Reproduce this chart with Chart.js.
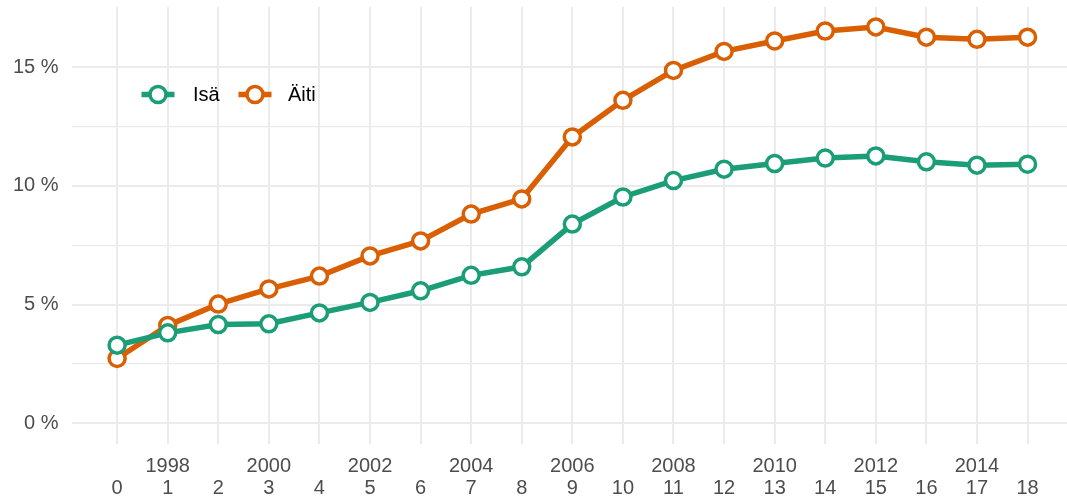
<!DOCTYPE html>
<html>
<head>
<meta charset="utf-8">
<script src="https://cdn.jsdelivr.net/npm/chart.js@4/dist/chart.umd.min.js"></script>
<style>
  html, body { margin: 0; padding: 0; background: #ffffff; }
  #wrap { width: 1067px; height: 497px; }
</style>
</head>
<body>
<div id="wrap"><canvas id="c" width="1067" height="497"></canvas></div>
<script>
// ---- Data ----
const indexValues = [0,1,2,3,4,5,6,7,8,9,10,11,12,13,14,15,16,17,18];
const yearLabels  = ['', '1998', '', '2000', '', '2002', '', '2004', '', '2006', '', '2008', '', '2010', '', '2012', '', '2014', ''];
const seriesNames = ['Isä', 'Äiti'];
const isaValues  = [3.29, 3.81, 4.16, 4.19, 4.65, 5.09, 5.58, 6.23, 6.59, 8.39, 9.53, 10.22, 10.70, 10.94, 11.17, 11.26, 11.01, 10.87, 10.91];
const aitiValues = [2.73, 4.12, 5.02, 5.66, 6.20, 7.05, 7.68, 8.81, 9.45, 12.06, 13.60, 14.86, 15.66, 16.10, 16.52, 16.69, 16.26, 16.17, 16.26];
const yTickValues = [0, 2.5, 5, 7.5, 10, 12.5, 15];

const colors = ['#1b9e77', '#d95f02'];
const FONT = '"Liberation Sans", Arial, Helvetica, sans-serif';

function toPoints(vals) { return vals.map((v, i) => ({ x: indexValues[i], y: v })); }

const legendPlugin = {
  id: 'insideLegend',
  afterDatasetsDraw(chart) {
    const ctx = chart.ctx;
    const items = [
      { name: seriesNames[0], color: colors[0], cx: 158, tx: 193 },
      { name: seriesNames[1], color: colors[1], cx: 255, tx: 288 }
    ];
    const cy = 94.5;
    ctx.save();
    items.forEach(it => {
      ctx.strokeStyle = it.color;
      ctx.lineWidth = 5.5;
      ctx.lineCap = 'butt';
      ctx.beginPath();
      ctx.moveTo(it.cx - 16.5, cy);
      ctx.lineTo(it.cx + 16.5, cy);
      ctx.stroke();
      ctx.beginPath();
      ctx.arc(it.cx, cy, 8, 0, Math.PI * 2);
      ctx.fillStyle = '#ffffff';
      ctx.fill();
      ctx.lineWidth = 3.5;
      ctx.stroke();
      ctx.fillStyle = '#000000';
      ctx.font = '20px ' + FONT;
      ctx.textBaseline = 'middle';
      ctx.textAlign = 'left';
      ctx.fillText(it.name, it.tx, cy + 1);
    });
    ctx.restore();
  }
};

function ds(label, vals, color) {
  return {
    label: label,
    data: toPoints(vals),
    borderColor: color,
    backgroundColor: color,
    borderWidth: 5.5,
    tension: 0,
    pointRadius: 8,
    pointHoverRadius: 8,
    pointBorderWidth: 3.5,
    pointBackgroundColor: '#ffffff',
    pointBorderColor: color,
    clip: false
  };
}

new Chart(document.getElementById('c'), {
  type: 'line',
  data: {
    datasets: [
      ds(seriesNames[0], isaValues, colors[0]),
      ds(seriesNames[1], aitiValues, colors[1])
    ]
  },
  options: {
    responsive: false,
    animation: false,
    devicePixelRatio: 1,
    layout: { autoPadding: false, padding: { top: 7, right: 0, left: 0, bottom: 0 } },
    plugins: { legend: { display: false }, tooltip: { enabled: false } },
    scales: {
      x: {
        type: 'linear',
        min: -0.892,
        max: 18.78,
        afterBuildTicks(scale) { scale.ticks = indexValues.map(v => ({ value: v })); },
        afterFit(scale) {
          scale.height = 53.5;
          scale.paddingLeft = 0; scale.paddingRight = 0;
          scale.paddingTop = 0; scale.paddingBottom = 0;
        },
        border: { display: false },
        grid: { color: '#ebebeb', lineWidth: 2, drawTicks: false },
        ticks: {
          autoSkip: false,
          maxRotation: 0,
          padding: 11.5,
          color: '#4d4d4d',
          font: { family: FONT, size: 20, lineHeight: 1.1 },
          callback(v) { return [yearLabels[v], String(v)]; }
        }
      },
      y: {
        type: 'linear',
        min: -0.85,
        max: 17.53,
        afterBuildTicks(scale) { scale.ticks = yTickValues.map(v => ({ value: v })); },
        afterFit(scale) {
          scale.width = 72;
          scale.paddingLeft = 0; scale.paddingRight = 0;
          scale.paddingTop = 0; scale.paddingBottom = 0;
        },
        border: { display: false },
        grid: {
          color: '#ebebeb',
          drawTicks: false,
          lineWidth(ctx) { return (ctx.tick && ctx.tick.value % 5 === 0) ? 2 : 1.3; }
        },
        ticks: {
          padding: 13.5,
          color: '#4d4d4d',
          font: { family: FONT, size: 20 },
          callback(v) { return (v % 5 === 0) ? (v + ' %') : ''; }
        }
      }
    }
  },
  plugins: [legendPlugin]
});
</script>
</body>
</html>
